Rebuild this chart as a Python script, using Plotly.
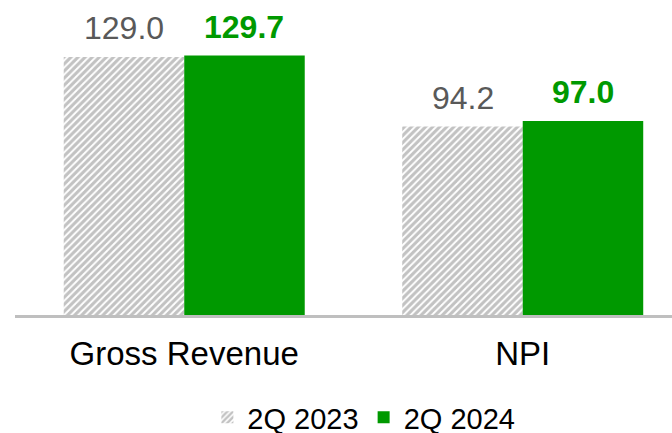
import plotly.graph_objects as go

categories = ["Gross Revenue", "NPI"]
q2_2023 = [129.0, 94.2]
q2_2024 = [129.7, 97.0]
labels_2023 = ["129.0", "94.2"]
labels_2024 = ["129.7", "97.0"]

FONT = "Arial, Liberation Sans, sans-serif"
GREEN = "#009900"
HATCH = "#858585"

fig = go.Figure()

fig.add_trace(
    go.Bar(
        x=categories,
        y=q2_2023,
        name="2Q 2023",
        marker=dict(
            color="white",
            pattern=dict(shape="/", fgcolor=HATCH, bgcolor="white", size=5, solidity=0.62),
            line=dict(width=0),
        ),
    )
)
fig.add_trace(
    go.Bar(
        x=categories,
        y=q2_2024,
        name="2Q 2024",
        marker=dict(color=GREEN, line=dict(width=0)),
    )
)

# value labels above each bar
for cat, v, t in zip(categories, q2_2023, labels_2023):
    fig.add_annotation(
        x=cat, y=v, text=t, showarrow=False, yanchor="bottom", xshift=-60, yshift=9,
        font=dict(family=FONT, size=32, color="#595959"),
    )
for cat, v, t in zip(categories, q2_2024, labels_2024):
    fig.add_annotation(
        x=cat, y=v, text="<b>" + t + "</b>", showarrow=False, yanchor="bottom", xshift=60, yshift=9,
        font=dict(family=FONT, size=32, color=GREEN),
    )

fig.update_xaxes(
    range=[-0.5, 1.441],
    showline=True, linecolor="#BFBFBF", linewidth=3,
    ticks="outside", ticklen=7, tickcolor="rgba(0,0,0,0)",
    tickfont=dict(family=FONT, size=33, color="black"),
    showgrid=False,
)
fig.update_yaxes(range=[0, 157.5], visible=False, showgrid=False)

fig.update_layout(
    width=672, height=433,
    margin=dict(l=15, r=0, t=0, b=118, autoexpand=False),
    barmode="group", bargap=0.288, bargroupgap=0.0,
    plot_bgcolor="white", paper_bgcolor="white",
    font=dict(family=FONT),
    showlegend=True,
    legend=dict(
        orientation="h", x=0.531, xanchor="center", y=-0.325, yanchor="middle",
        font=dict(family=FONT, size=29, color="black"),
        itemwidth=30,
    ),
)

# the page body has a default 8px margin; drop it so the figure sits at 0,0
fig.write_html(
    "out.html",
    config={"displayModeBar": False},
    post_script="document.body.style.margin='0';",
)
